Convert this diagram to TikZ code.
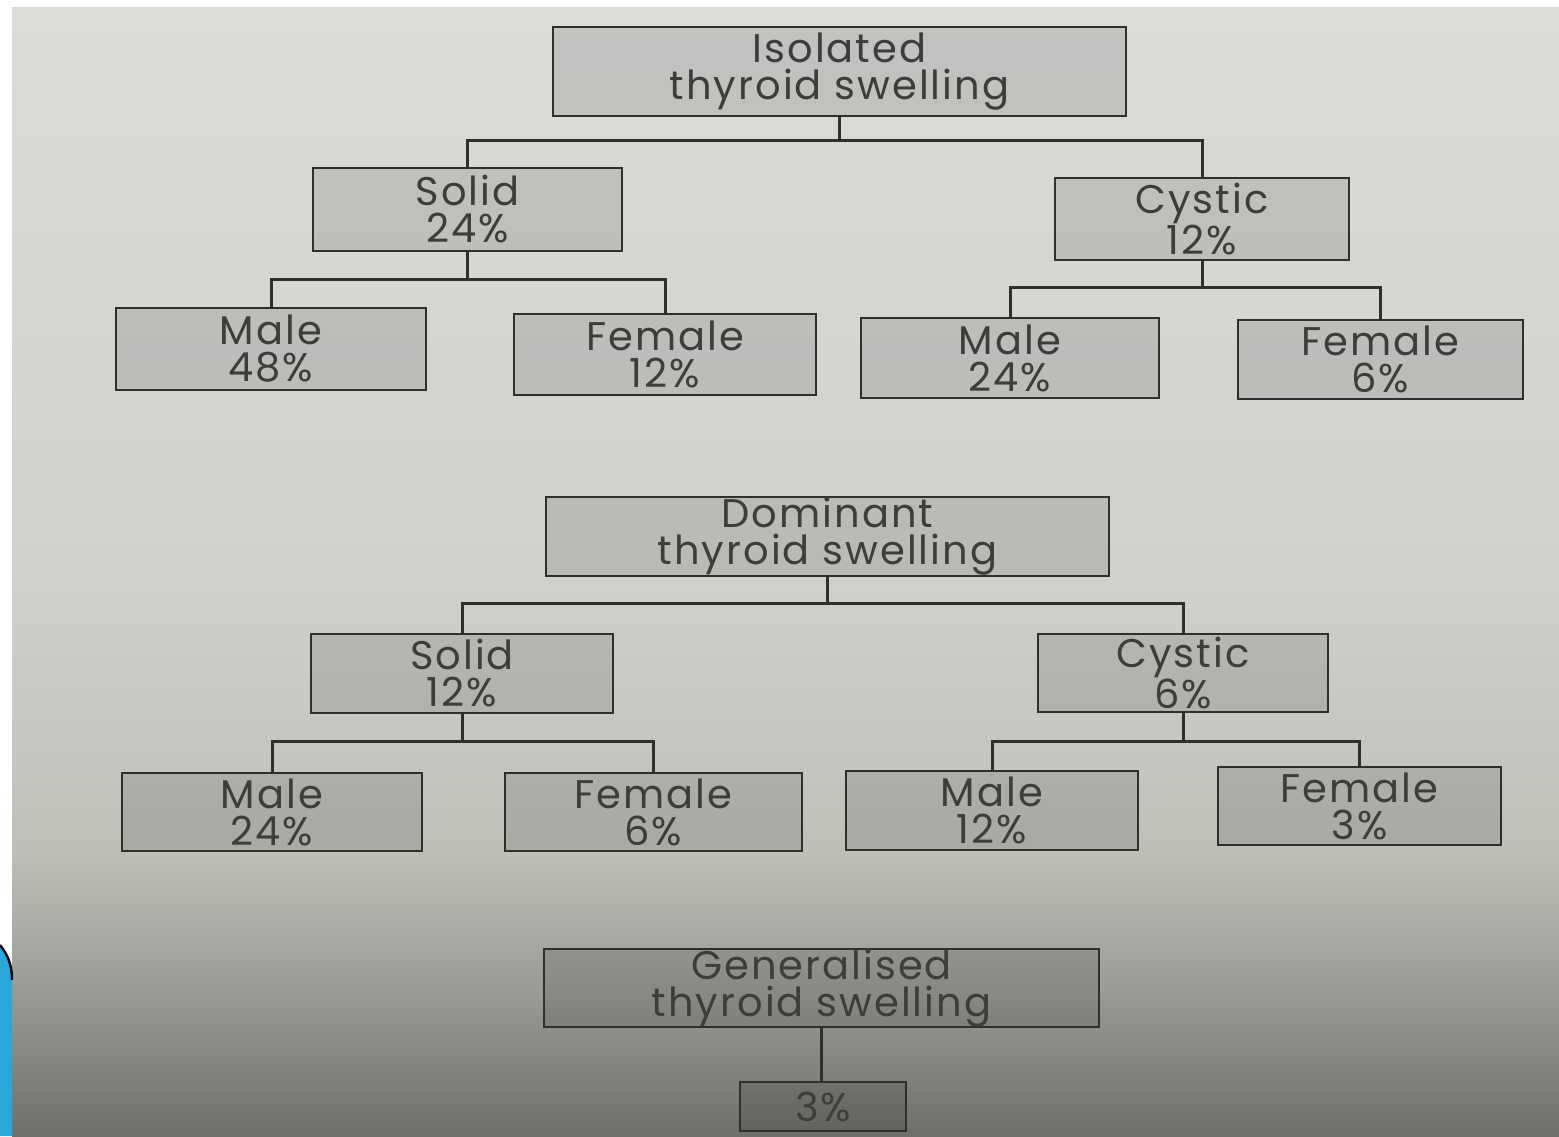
\documentclass[tikz,border=0pt]{standalone}
\usepackage{fontspec}
\setmainfont[LetterSpace=5]{Poppins}
\definecolor{bgtop}{HTML}{DADCD8}
\definecolor{bgupper}{HTML}{D0D1CC}
\definecolor{bgmid}{HTML}{BFBFB8}
\definecolor{bglow}{HTML}{979892}
\definecolor{bgbot}{HTML}{6D6F6A}
\definecolor{inkc}{HTML}{3C3E3C}
\definecolor{linec}{HTML}{2E302E}
\definecolor{swoosh}{HTML}{2AA7D8}
\pgfdeclareverticalshading{bgshade}{100bp}{color(0bp)=(bgbot); color(25bp)=(bgbot); color(31bp)=(bglow); color(37.5bp)=(bgmid); color(50bp)=(bgupper); color(75bp)=(bgtop); color(100bp)=(bgtop)}
\tikzset{
  box/.style={draw=linec, line width=1.3pt, fill=black, fill opacity=0.11, text opacity=1,
    inner sep=0pt, align=center, text=inkc,
    font=\fontsize{20}{18.5}\selectfont},
  conn/.style={draw=linec, line width=1.5pt}
}
\begin{document}
\begin{tikzpicture}[x=0.5pt,y=-0.5pt]
\useasboundingbox (0,0) rectangle (1559,1136);
\fill[white] (0,0) rectangle (1559,1136);
\shade[shading=bgshade] (12,7) rectangle (1559,1136);
\fill[swoosh] (0,945) .. controls (8,955) and (12,965) .. (12,980) -- (12,1136) -- (0,1136) -- cycle;
\draw[black, line width=1.2pt] (0,945) .. controls (8,955) and (12,965) .. (12,980);

% top tree
\node[box, minimum width=286.5pt, minimum height=44.5pt] (iso) at (839.5,71.5) {Isolated\\thyroid swelling};
\node[box, minimum width=154.5pt, minimum height=41.5pt] (sol1) at (467.5,209.5) {Solid\\24\%};
\node[box, minimum width=147pt, minimum height=41pt] (cys1) at (1202,219) {Cystic\\12\%};
\node[box, minimum width=155pt, minimum height=41pt] (m1) at (271,349) {Male\\48\%};
\node[box, minimum width=151pt, minimum height=40.5pt] (f1) at (665,354.5) {Female\\12\%};
\node[box, minimum width=149pt, minimum height=40pt] (m2) at (1010,358) {Male\\24\%};
\node[box, minimum width=142.5pt, minimum height=39.5pt] (f2) at (1380.5,359.5) {Female\\6\%};

% middle tree
\node[box, minimum width=281.5pt, minimum height=39.5pt] (dom) at (827.5,536.5) {Dominant\\thyroid swelling};
\node[box, minimum width=151pt, minimum height=39.5pt] (sol2) at (462,673.5) {Solid\\12\%};
\node[box, minimum width=145pt, minimum height=39pt] (cys2) at (1183,673) {Cystic\\6\%};
\node[box, minimum width=150pt, minimum height=39pt] (m3) at (272,812) {Male\\24\%};
\node[box, minimum width=148.5pt, minimum height=39pt] (f3) at (653.5,812) {Female\\6\%};
\node[box, minimum width=146pt, minimum height=39.5pt] (m4) at (992,810.5) {Male\\12\%};
\node[box, minimum width=141.5pt, minimum height=39pt] (f4) at (1359.5,806) {Female\\3\%};

% bottom
\node[box, minimum width=277.5pt, minimum height=39pt] (gen) at (821.5,988) {Generalised\\thyroid swelling};
\node[box, minimum width=83pt, minimum height=24.5pt] (pct) at (823,1106.5) {3\%};

% junction levels
\coordinate (y1) at (0,140);
\coordinate (y2) at (0,279);
\coordinate (y3) at (0,287);
\coordinate (y4) at (0,603);
\coordinate (y5) at (0,741);

\draw[conn] (iso.south) -- (iso.south |- y1);
\draw[conn] (sol1.north) |- (iso.south |- y1) -| (cys1.north);
\draw[conn] (sol1.south) -- (sol1.south |- y2);
\draw[conn] (m1.north) |- (sol1.south |- y2) -| (f1.north);
\draw[conn] (cys1.south) -- (cys1.south |- y3);
\draw[conn] (m2.north) |- (cys1.south |- y3) -| (f2.north);

\draw[conn] (dom.south) -- (dom.south |- y4);
\draw[conn] (sol2.north) |- (dom.south |- y4) -| (cys2.north);
\draw[conn] (sol2.south) -- (sol2.south |- y5);
\draw[conn] (m3.north) |- (sol2.south |- y5) -| (f3.north);
\draw[conn] (cys2.south) -- (cys2.south |- y5);
\draw[conn] (m4.north) |- (cys2.south |- y5) -| (f4.north);

\draw[conn] (gen.south) -- (pct.north -| gen.south);
\end{tikzpicture}
\end{document}
